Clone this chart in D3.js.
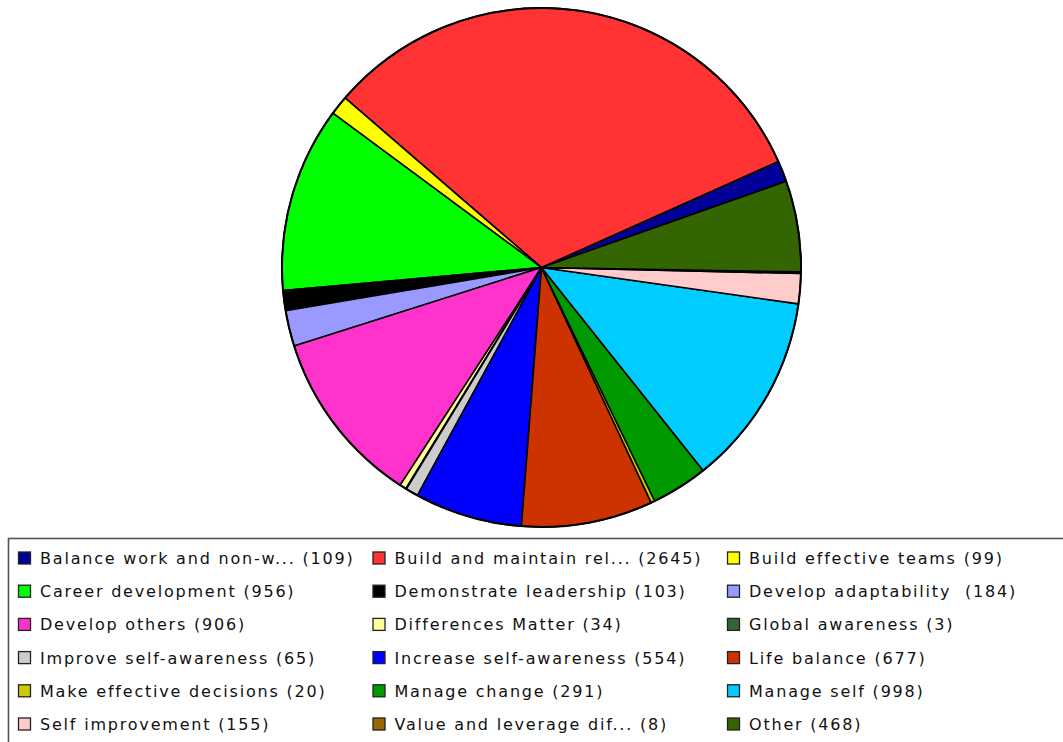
<!DOCTYPE html>
<html>
<head>
<meta charset="utf-8">
<script src="https://cdn.jsdelivr.net/npm/d3@7"></script>
<style>
  html, body { margin: 0; padding: 0; background: #fff; }
  svg { display: block; }
  text { white-space: pre; }
</style>
</head>
<body>
<svg id="chart" width="1063" height="742"></svg>
<script>
const categories = [
  "Balance work and non-w...", "Build and maintain rel...", "Build effective teams",
  "Career development", "Demonstrate leadership", "Develop adaptability ",
  "Develop others", "Differences Matter", "Global awareness",
  "Improve self-awareness", "Increase self-awareness", "Life balance",
  "Make effective decisions", "Manage change", "Manage self",
  "Self improvement", "Value and leverage dif...", "Other"
];
const values = [109, 2645, 99, 956, 103, 184, 906, 34, 3, 65, 554, 677, 20, 291, 998, 155, 8, 468];
const colors = [
  "#000099", "#FF3333", "#FFFF00",
  "#00FF00", "#000000", "#9999FF",
  "#FF33CC", "#FFFF99", "#336633",
  "#CCCCCC", "#0000FF", "#CC3300",
  "#CCCC00", "#009900", "#00CCFF",
  "#FFCCCC", "#996600", "#336600"
];

const data = categories.map((c, i) => ({ name: c, value: values[i], color: colors[i] }));

const svg = d3.select("#chart");
const cx = 541.5, cy = 267.5, R = 259.5;
const startDeg = 70.6; // d3 angle (clockwise from 12 o'clock) where first slice begins

const pie = d3.pie()
  .value(d => d.value)
  .sort(null)
  .startAngle(startDeg * Math.PI / 180)
  .endAngle((startDeg - 360) * Math.PI / 180);

const arc = d3.arc().innerRadius(0).outerRadius(R);

const g = svg.append("g").attr("transform", `translate(${cx},${cy})`);
g.selectAll("path.slice")
  .data(pie(data))
  .join("path")
  .attr("class", "slice")
  .attr("d", arc)
  .attr("fill", d => d.data.color)
  .attr("stroke", "#000")
  .attr("stroke-width", 1.6)
  .attr("stroke-linejoin", "round");

g.append("circle").attr("r", R).attr("fill", "none").attr("stroke", "#000").attr("stroke-width", 2);

// Legend
const legend = svg.append("g");
legend.append("rect")
  .attr("x", 8.5).attr("y", 538.5)
  .attr("width", 1080).attr("height", 230)
  .attr("fill", "#fff")
  .attr("stroke", "#555").attr("stroke-width", 1.6);

const colX = d3.scalePoint().domain([0, 1, 2]).range([18, 727]);
const rowY = d3.scalePoint().domain(d3.range(6)).range([558, 724]);

const items = legend.selectAll("g.item")
  .data(data)
  .join("g")
  .attr("class", "item")
  .attr("transform", (d, i) => `translate(${colX(i % 3)},${rowY(Math.floor(i / 3))})`);

items.append("rect")
  .attr("x", 0.5).attr("y", -6)
  .attr("width", 12).attr("height", 12)
  .attr("fill", d => d.color)
  .attr("stroke", "#222").attr("stroke-width", 1.3);

items.append("text")
  .attr("x", 22).attr("y", 6)
  .attr("font-family", "DejaVu Sans, sans-serif")
  .attr("font-size", 16)
  .attr("letter-spacing", 1.8)
  .attr("fill", "#111")
  .text(d => `${d.name} (${d.value})`);
</script>
</body>
</html>
